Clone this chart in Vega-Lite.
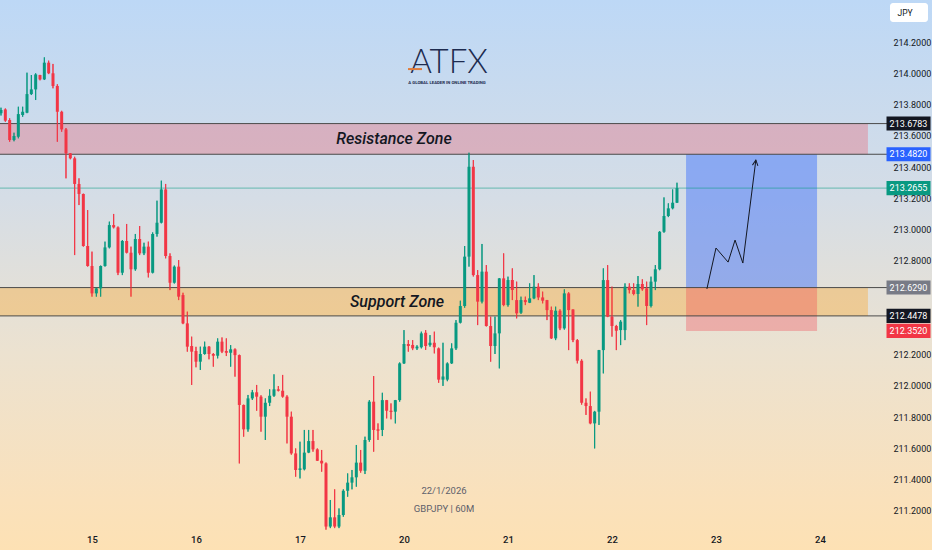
{
"$schema":"https://vega.github.io/schema/vega-lite/v6.json",
"width":932,"height":550,"padding":0,"autosize":{"type":"none"},
"view":{"stroke":null,"fill":{"gradient":"linear","x1":0,"y1":0,"x2":0,"y2":1,"stops":[{"offset":0,"color":"#bdd8f6"},{"offset":0.36,"color":"#d5dde6"},{"offset":0.64,"color":"#ece2d0"},{"offset":0.91,"color":"#fae1bb"},{"offset":1,"color":"#fde1b4"}]}},
"background":"#e6e0d6",
"config":{"scale":{"continuousPadding":0}},
"resolve":{"axis":{"x":"independent","y":"independent"}},
"datasets":{
"candles":[
{"u":3,"o":213.744,"h":213.78,"l":213.73,"c":213.765},
{"u":4,"o":213.769,"h":213.775,"l":213.69,"c":213.697},
{"u":5,"o":213.701,"h":213.712,"l":213.562,"c":213.573},
{"u":6,"o":213.573,"h":213.62,"l":213.565,"c":213.599},
{"u":7,"o":213.594,"h":213.786,"l":213.584,"c":213.739},
{"u":8,"o":213.733,"h":213.786,"l":213.722,"c":213.754},
{"u":9,"o":213.748,"h":214.004,"l":213.745,"c":213.867},
{"u":10,"o":213.867,"h":213.989,"l":213.861,"c":213.897},
{"u":11,"o":213.897,"h":214.0,"l":213.829,"c":213.993},
{"u":12,"o":213.989,"h":213.99,"l":213.955,"c":213.961},
{"u":13,"o":213.961,"h":214.102,"l":213.957,"c":214.068},
{"u":14,"o":214.068,"h":214.081,"l":213.995,"c":214.0},
{"u":15,"o":214.0,"h":214.06,"l":213.904,"c":213.919},
{"u":16,"o":213.919,"h":213.93,"l":213.562,"c":213.754},
{"u":17,"o":213.754,"h":213.76,"l":213.626,"c":213.641},
{"u":18,"o":213.641,"h":213.65,"l":213.328,"c":213.488},
{"u":19,"o":213.488,"h":213.49,"l":213.45,"c":213.456},
{"u":20,"o":213.456,"h":213.466,"l":212.837,"c":213.292},
{"u":21,"o":213.292,"h":213.328,"l":213.157,"c":213.228},
{"u":22,"o":213.228,"h":213.23,"l":212.891,"c":212.895},
{"u":23,"o":212.895,"h":213.125,"l":212.763,"c":212.767},
{"u":24,"o":212.767,"h":212.859,"l":212.571,"c":212.592},
{"u":25,"o":212.592,"h":212.63,"l":212.571,"c":212.624},
{"u":26,"o":212.624,"h":212.77,"l":212.571,"c":212.767},
{"u":27,"o":212.767,"h":212.923,"l":212.763,"c":212.886},
{"u":28,"o":212.886,"h":213.051,"l":212.88,"c":213.029},
{"u":29,"o":213.029,"h":213.1,"l":213.008,"c":213.014},
{"u":30,"o":213.014,"h":213.02,"l":212.709,"c":212.724},
{"u":31,"o":212.724,"h":212.933,"l":212.709,"c":212.927},
{"u":32,"o":212.927,"h":213.036,"l":212.848,"c":212.852},
{"u":33,"o":212.852,"h":212.891,"l":212.571,"c":212.746},
{"u":34,"o":212.746,"h":212.972,"l":212.737,"c":212.94},
{"u":35,"o":212.94,"h":213.023,"l":212.837,"c":212.848},
{"u":36,"o":212.848,"h":212.916,"l":212.837,"c":212.891},
{"u":37,"o":212.891,"h":212.923,"l":212.694,"c":212.724},
{"u":38,"o":212.724,"h":212.982,"l":212.72,"c":212.972},
{"u":39,"o":212.972,"h":213.185,"l":212.955,"c":213.044},
{"u":40,"o":213.044,"h":213.313,"l":213.04,"c":213.257},
{"u":41,"o":213.257,"h":213.292,"l":212.816,"c":212.831},
{"u":42,"o":212.831,"h":212.848,"l":212.613,"c":212.66},
{"u":43,"o":212.66,"h":212.77,"l":212.655,"c":212.763},
{"u":44,"o":212.763,"h":212.805,"l":212.549,"c":212.571},
{"u":45,"o":212.581,"h":212.596,"l":212.395,"c":212.4},
{"u":46,"o":212.4,"h":212.475,"l":212.219,"c":212.251},
{"u":47,"o":212.255,"h":212.315,"l":212.006,"c":212.219},
{"u":48,"o":212.223,"h":212.25,"l":212.119,"c":212.155},
{"u":49,"o":212.155,"h":212.251,"l":212.102,"c":212.204},
{"u":50,"o":212.204,"h":212.283,"l":212.2,"c":212.251},
{"u":51,"o":212.251,"h":212.255,"l":212.17,"c":212.204},
{"u":52,"o":212.204,"h":212.21,"l":212.123,"c":212.193},
{"u":53,"o":212.193,"h":212.304,"l":212.176,"c":212.283},
{"u":54,"o":212.283,"h":212.31,"l":212.21,"c":212.219},
{"u":55,"o":212.223,"h":212.304,"l":212.191,"c":212.212},
{"u":56,"o":212.212,"h":212.261,"l":212.123,"c":212.234},
{"u":57,"o":212.234,"h":212.24,"l":212.059,"c":212.197},
{"u":58,"o":212.197,"h":212.2,"l":211.504,"c":211.878},
{"u":59,"o":211.878,"h":211.88,"l":211.675,"c":211.722},
{"u":60,"o":211.722,"h":211.942,"l":211.707,"c":211.92},
{"u":61,"o":211.92,"h":211.974,"l":211.91,"c":211.959},
{"u":62,"o":211.959,"h":212.006,"l":211.841,"c":211.931},
{"u":63,"o":211.931,"h":211.94,"l":211.707,"c":211.803},
{"u":64,"o":211.803,"h":211.92,"l":211.654,"c":211.892},
{"u":65,"o":211.892,"h":211.978,"l":211.871,"c":211.937},
{"u":66,"o":211.937,"h":212.074,"l":211.93,"c":211.978},
{"u":67,"o":211.978,"h":211.999,"l":211.965,"c":211.969},
{"u":68,"o":211.969,"h":212.07,"l":211.925,"c":211.931},
{"u":69,"o":211.931,"h":211.94,"l":211.632,"c":211.803},
{"u":70,"o":211.803,"h":211.835,"l":211.56,"c":211.568},
{"u":71,"o":211.568,"h":211.6,"l":211.419,"c":211.462},
{"u":72,"o":211.462,"h":211.643,"l":211.408,"c":211.472},
{"u":73,"o":211.466,"h":211.718,"l":211.46,"c":211.573},
{"u":74,"o":211.573,"h":211.718,"l":211.57,"c":211.647},
{"u":75,"o":211.647,"h":211.718,"l":211.579,"c":211.594},
{"u":76,"o":211.594,"h":211.6,"l":211.52,"c":211.521},
{"u":77,"o":211.521,"h":211.59,"l":211.451,"c":211.504},
{"u":78,"o":211.504,"h":211.51,"l":211.08,"c":211.1},
{"u":79,"o":211.1,"h":211.27,"l":211.09,"c":211.159},
{"u":80,"o":211.159,"h":211.338,"l":211.09,"c":211.1},
{"u":81,"o":211.1,"h":211.216,"l":211.09,"c":211.174},
{"u":82,"o":211.174,"h":211.338,"l":211.163,"c":211.329},
{"u":83,"o":211.329,"h":211.44,"l":211.291,"c":211.381},
{"u":84,"o":211.381,"h":211.462,"l":211.338,"c":211.415},
{"u":85,"o":211.415,"h":211.622,"l":211.355,"c":211.509},
{"u":86,"o":211.509,"h":211.59,"l":211.445,"c":211.457},
{"u":87,"o":211.457,"h":211.675,"l":211.436,"c":211.654},
{"u":88,"o":211.654,"h":211.909,"l":211.643,"c":211.899},
{"u":89,"o":211.899,"h":212.063,"l":211.579,"c":211.718},
{"u":90,"o":211.722,"h":211.76,"l":211.654,"c":211.713},
{"u":91,"o":211.718,"h":211.956,"l":211.679,"c":211.909},
{"u":92,"o":211.909,"h":211.91,"l":211.792,"c":211.841},
{"u":93,"o":211.841,"h":211.888,"l":211.786,"c":211.833},
{"u":94,"o":211.835,"h":211.91,"l":211.76,"c":211.909},
{"u":95,"o":211.909,"h":212.15,"l":211.899,"c":212.144},
{"u":96,"o":212.144,"h":212.357,"l":212.14,"c":212.268},
{"u":97,"o":212.268,"h":212.293,"l":212.219,"c":212.255},
{"u":98,"o":212.262,"h":212.293,"l":212.229,"c":212.24},
{"u":99,"o":212.24,"h":212.26,"l":212.23,"c":212.251},
{"u":100,"o":212.247,"h":212.347,"l":212.24,"c":212.336},
{"u":101,"o":212.34,"h":212.357,"l":212.23,"c":212.255},
{"u":102,"o":212.261,"h":212.325,"l":212.251,"c":212.276},
{"u":103,"o":212.276,"h":212.347,"l":212.208,"c":212.247},
{"u":104,"o":212.24,"h":212.245,"l":212.02,"c":212.04},
{"u":105,"o":212.04,"h":212.276,"l":212.0,"c":212.06},
{"u":106,"o":212.04,"h":212.15,"l":212.03,"c":212.144},
{"u":107,"o":212.144,"h":212.272,"l":212.14,"c":212.24},
{"u":108,"o":212.24,"h":212.421,"l":212.23,"c":212.404},
{"u":109,"o":212.404,"h":212.545,"l":212.4,"c":212.511},
{"u":110,"o":212.511,"h":212.895,"l":212.5,"c":212.827},
{"u":111,"o":212.827,"h":213.492,"l":212.763,"c":213.402},
{"u":112,"o":213.402,"h":213.445,"l":212.7,"c":212.709},
{"u":113,"o":212.709,"h":212.741,"l":212.389,"c":212.539},
{"u":114,"o":212.539,"h":212.908,"l":212.528,"c":212.731},
{"u":115,"o":212.731,"h":212.773,"l":212.38,"c":212.383},
{"u":116,"o":212.383,"h":212.443,"l":212.155,"c":212.255},
{"u":117,"o":212.255,"h":212.443,"l":212.204,"c":212.336},
{"u":118,"o":212.336,"h":212.69,"l":212.112,"c":212.688},
{"u":119,"o":212.688,"h":212.848,"l":212.51,"c":212.517},
{"u":120,"o":212.517,"h":212.699,"l":212.507,"c":212.677},
{"u":121,"o":212.677,"h":212.752,"l":212.549,"c":212.613},
{"u":122,"o":212.549,"h":212.667,"l":212.432,"c":212.464},
{"u":123,"o":212.468,"h":212.571,"l":212.46,"c":212.549},
{"u":124,"o":212.549,"h":212.571,"l":212.517,"c":212.536},
{"u":125,"o":212.532,"h":212.656,"l":212.53,"c":212.56},
{"u":126,"o":212.56,"h":212.709,"l":212.555,"c":212.635},
{"u":127,"o":212.635,"h":212.656,"l":212.549,"c":212.566},
{"u":128,"o":212.566,"h":212.603,"l":212.528,"c":212.545},
{"u":129,"o":212.549,"h":212.55,"l":212.421,"c":212.485},
{"u":130,"o":212.485,"h":212.507,"l":212.3,"c":212.304},
{"u":131,"o":212.304,"h":212.507,"l":212.293,"c":212.481},
{"u":132,"o":212.481,"h":212.49,"l":212.357,"c":212.368},
{"u":133,"o":212.368,"h":212.618,"l":212.36,"c":212.592},
{"u":134,"o":212.592,"h":212.6,"l":212.229,"c":212.485},
{"u":135,"o":212.489,"h":212.49,"l":212.28,"c":212.293},
{"u":136,"o":212.293,"h":212.3,"l":212.144,"c":212.161},
{"u":137,"o":212.161,"h":212.17,"l":211.88,"c":211.892},
{"u":138,"o":211.892,"h":211.92,"l":211.814,"c":211.871},
{"u":139,"o":211.871,"h":211.963,"l":211.755,"c":211.76},
{"u":140,"o":211.76,"h":211.84,"l":211.6,"c":211.835},
{"u":141,"o":211.835,"h":212.23,"l":211.75,"c":212.229},
{"u":142,"o":212.229,"h":212.752,"l":212.08,"c":212.677},
{"u":143,"o":212.677,"h":212.773,"l":212.44,"c":212.443},
{"u":144,"o":212.443,"h":212.635,"l":212.315,"c":212.383},
{"u":145,"o":212.383,"h":212.39,"l":212.229,"c":212.353},
{"u":146,"o":212.357,"h":212.421,"l":212.261,"c":212.411},
{"u":147,"o":212.357,"h":212.656,"l":212.293,"c":212.635},
{"u":148,"o":212.635,"h":212.656,"l":212.592,"c":212.613},
{"u":149,"o":212.613,"h":212.656,"l":212.58,"c":212.588},
{"u":150,"o":212.588,"h":212.703,"l":212.507,"c":212.652},
{"u":151,"o":212.652,"h":212.682,"l":212.609,"c":212.618},
{"u":152,"o":212.624,"h":212.667,"l":212.389,"c":212.511},
{"u":153,"o":212.511,"h":212.699,"l":212.502,"c":212.667},
{"u":154,"o":212.667,"h":212.773,"l":212.613,"c":212.746},
{"u":155,"o":212.746,"h":212.99,"l":212.74,"c":212.986},
{"u":156,"o":212.986,"h":213.206,"l":212.98,"c":213.087},
{"u":157,"o":213.087,"h":213.168,"l":213.08,"c":213.136},
{"u":158,"o":213.136,"h":213.257,"l":213.13,"c":213.172},
{"u":159,"o":213.172,"h":213.3,"l":213.17,"c":213.2655}
],
"levels":[{"p":213.6783},{"p":213.482},{"p":212.629},{"p":212.4478}],
"tags":[
{"v":213.6783,"k":"black"},{"v":213.482,"k":"blue"},{"v":213.2655,"k":"green"},
{"v":212.629,"k":"gray"},{"v":212.4478,"k":"black"},{"v":212.352,"k":"red"}
],
"path":[
{"i":0,"t":165.9,"p":212.62},{"i":1,"t":168.0,"p":212.882},{"i":2,"t":170.8,"p":212.792},
{"i":3,"t":172.4,"p":212.933},{"i":4,"t":174.2,"p":212.786},{"i":5,"t":177.2,"p":213.445}
]
},
"layer":[
{"data":{"name":"candles"},
 "mark":{"type":"rule","strokeWidth":1},
 "encoding":{"x":{"field":"u","type":"quantitative","scale":{"domain":[2.77,217.85],"nice":false,"zero":false,"padding":0},
       "axis":{"orient":"bottom","offset":-22,"values":[24,48,72,96,120,144,168,192],"labelExpr":"['15','16','17','20','21','22','23','24'][round(datum.value/24)-1]","labelFont":"Roboto","labelFontSize":9.5,"labelFontWeight":500,"labelColor":"#131722","labelPadding":6,"ticks":false,"domain":false,"grid":false,"title":null,"zindex":1,"labelFlush":false}},
  "y":{"field":"l","type":"quantitative","scale":{"domain":[210.95,214.469],"nice":false,"zero":false,"padding":0},
       "axis":{"orient":"right","offset":-52,"values":[211.2,211.4,211.6,211.8,212.0,212.2,212.8,213.0,213.2,213.4,213.6,213.8,214.0,214.2],"format":".4f","labelFont":"Roboto","labelFontSize":9,"labelColor":"#131722","labelPadding":13,"labelAlign":"left","labelBaseline":"middle","ticks":false,"domain":false,"grid":false,"title":null,"zindex":1}},
  "y2":{"field":"h"},
  "color":{"condition":{"test":"datum.c >= datum.o","value":"#089981"},"value":"#f23645"}}},
{"data":{"values":[{"t0":2.77,"t1":203.07,"p0":213.482,"p1":213.6783}]},
 "mark":{"type":"rect","fill":"#f23645","opacity":0.26},
 "encoding":{"x":{"field":"t0","type":"quantitative","scale":{"domain":[2.77,217.85],"nice":false,"zero":false,"padding":0},"axis":null},"x2":{"field":"t1"},
  "y":{"field":"p0","type":"quantitative","scale":{"domain":[210.95,214.469],"nice":false,"zero":false,"padding":0},"axis":null},"y2":{"field":"p1"}}},
{"data":{"values":[{"t0":2.77,"t1":203.07,"p0":212.4478,"p1":212.629}]},
 "mark":{"type":"rect","fill":"#ff9800","opacity":0.3},
 "encoding":{"x":{"field":"t0","type":"quantitative","scale":{"domain":[2.77,217.85],"nice":false,"zero":false,"padding":0},"axis":null},"x2":{"field":"t1"},
  "y":{"field":"p0","type":"quantitative","scale":{"domain":[210.95,214.469],"nice":false,"zero":false,"padding":0},"axis":null},"y2":{"field":"p1"}}},
{"data":{"values":[{"t0":161.09,"t1":191.32,"p0":212.629,"p1":213.482}]},
 "mark":{"type":"rect","fill":"#2962ff","opacity":0.42},
 "encoding":{"x":{"field":"t0","type":"quantitative","scale":{"domain":[2.77,217.85],"nice":false,"zero":false,"padding":0},"axis":null},"x2":{"field":"t1"},
  "y":{"field":"p0","type":"quantitative","scale":{"domain":[210.95,214.469],"nice":false,"zero":false,"padding":0},"axis":null},"y2":{"field":"p1"}}},
{"data":{"values":[{"t0":161.09,"t1":191.32,"p0":212.352,"p1":212.629}]},
 "mark":{"type":"rect","fill":"#f23645","opacity":0.3},
 "encoding":{"x":{"field":"t0","type":"quantitative","scale":{"domain":[2.77,217.85],"nice":false,"zero":false,"padding":0},"axis":null},"x2":{"field":"t1"},
  "y":{"field":"p0","type":"quantitative","scale":{"domain":[210.95,214.469],"nice":false,"zero":false,"padding":0},"axis":null},"y2":{"field":"p1"}}},
{"data":{"name":"levels"},
 "mark":{"type":"rule","stroke":"#4a4a4a","strokeWidth":1},
 "encoding":{"x":{"datum":2.77,"type":"quantitative","scale":{"domain":[2.77,217.85],"nice":false,"zero":false,"padding":0},"axis":null},"x2":{"datum":207.47},
  "y":{"field":"p","type":"quantitative","scale":{"domain":[210.95,214.469],"nice":false,"zero":false,"padding":0},"axis":null}}},
{"data":{"values":[{"p":213.2655}]},
 "mark":{"type":"rule","stroke":"#089981","strokeWidth":1,"opacity":0.55},
 "encoding":{"x":{"datum":2.77,"type":"quantitative","scale":{"domain":[2.77,217.85],"nice":false,"zero":false,"padding":0},"axis":null},"x2":{"datum":207.47},
  "y":{"field":"p","type":"quantitative","scale":{"domain":[210.95,214.469],"nice":false,"zero":false,"padding":0},"axis":null}}},
{"data":{"name":"candles"},
 "mark":{"type":"rule","strokeWidth":1},
 "encoding":{"x":{"field":"u","type":"quantitative","scale":{"domain":[2.77,217.85],"nice":false,"zero":false,"padding":0},"axis":null},
  "y":{"field":"l","type":"quantitative","scale":{"domain":[210.95,214.469],"nice":false,"zero":false,"padding":0},"axis":null},"y2":{"field":"h"},
  "color":{"condition":{"test":"datum.c >= datum.o","value":"#089981"},"value":"#f23645"}}},
{"data":{"name":"candles"},
 "mark":{"type":"bar","size":3},
 "encoding":{"x":{"field":"u","type":"quantitative","scale":{"domain":[2.77,217.85],"nice":false,"zero":false,"padding":0},"axis":null},
  "y":{"field":"o","type":"quantitative","scale":{"domain":[210.95,214.469],"nice":false,"zero":false,"padding":0},"axis":null},"y2":{"field":"c"},
  "color":{"condition":{"test":"datum.c >= datum.o","value":"#089981"},"value":"#f23645"}}},
{"data":{"name":"path"},
 "mark":{"type":"line","stroke":"#131722","strokeWidth":1},
 "encoding":{"x":{"field":"t","type":"quantitative","scale":{"domain":[2.77,217.85],"nice":false,"zero":false,"padding":0},"axis":null},
  "y":{"field":"p","type":"quantitative","scale":{"domain":[210.95,214.469],"nice":false,"zero":false,"padding":0},"axis":null},
  "order":{"field":"i"}}},
{"data":{"values":[{"t":177.2,"p":213.445}]},
 "mark":{"type":"point","shape":"M-0.5,1L0,0L0.5,1","filled":false,"stroke":"#131722","strokeWidth":1,"size":120,"angle":7,"opacity":1},
 "encoding":{"x":{"field":"t","type":"quantitative","scale":{"domain":[2.77,217.85],"nice":false,"zero":false,"padding":0},"axis":null},
  "y":{"field":"p","type":"quantitative","scale":{"domain":[210.95,214.469],"nice":false,"zero":false,"padding":0},"axis":null}}},
{"data":{"values":[{"t":93.7,"p":213.58,"s":"Resistance Zone"},{"t":94.39,"p":212.538,"s":"Support Zone"}]},
 "mark":{"type":"text","font":"Roboto","fontStyle":"italic","fontWeight":500,"fontSize":16,"fill":"#131722","baseline":"middle","align":"center"},
 "encoding":{"x":{"field":"t","type":"quantitative","scale":{"domain":[2.77,217.85],"nice":false,"zero":false,"padding":0},"axis":null},
  "y":{"field":"p","type":"quantitative","scale":{"domain":[210.95,214.469],"nice":false,"zero":false,"padding":0},"axis":null},
  "text":{"field":"s"}}},
{"data":{"values":[{"t":106.39,"p":214.004,"s":"ATFX"}]},
 "mark":{"type":"text","font":"Lato","fontWeight":300,"fontSize":33,"fill":"#1d2b4f","baseline":"alphabetic","align":"center","letterSpacing":1},
 "encoding":{"x":{"field":"t","type":"quantitative","scale":{"domain":[2.77,217.85],"nice":false,"zero":false,"padding":0},"axis":null},
  "y":{"field":"p","type":"quantitative","scale":{"domain":[210.95,214.469],"nice":false,"zero":false,"padding":0},"axis":null},
  "text":{"field":"s"}}},
{"data":{"values":[{"t0":96.93,"t1":100.16,"p":214.027}]},
 "mark":{"type":"rule","stroke":"#e07b39","strokeWidth":2},
 "encoding":{"x":{"field":"t0","type":"quantitative","scale":{"domain":[2.77,217.85],"nice":false,"zero":false,"padding":0},"axis":null},"x2":{"field":"t1"},
  "y":{"field":"p","type":"quantitative","scale":{"domain":[210.95,214.469],"nice":false,"zero":false,"padding":0},"axis":null}}},
{"data":{"values":[{"t":105.93,"p":213.94,"s":"A GLOBAL LEADER IN ONLINE TRADING"}]},
 "mark":{"type":"text","font":"Roboto","fontWeight":"bold","fontSize":4.3,"fill":"#1d2b4f","baseline":"middle","align":"center"},
 "encoding":{"x":{"field":"t","type":"quantitative","scale":{"domain":[2.77,217.85],"nice":false,"zero":false,"padding":0},"axis":null},
  "y":{"field":"p","type":"quantitative","scale":{"domain":[210.95,214.469],"nice":false,"zero":false,"padding":0},"axis":null},
  "text":{"field":"s"}}},
{"data":{"values":[{"t":105.24,"p":211.327,"s":"22/1/2026"},{"t":105.24,"p":211.212,"s":"GBPJPY | 60M"}]},
 "mark":{"type":"text","font":"Roboto","fontSize":9.5,"fill":"#5d606b","baseline":"middle","align":"center"},
 "encoding":{"x":{"field":"t","type":"quantitative","scale":{"domain":[2.77,217.85],"nice":false,"zero":false,"padding":0},"axis":null},
  "y":{"field":"p","type":"quantitative","scale":{"domain":[210.95,214.469],"nice":false,"zero":false,"padding":0},"axis":null},
  "text":{"field":"s"}}},
{"data":{"name":"tags"},
 "mark":{"type":"point","shape":"M-1,-0.32L1,-0.32L1,0.32L-1,0.32Z","filled":true,"size":1936,"opacity":1,"strokeWidth":0},
 "encoding":{"x":{"datum":212.43,"type":"quantitative","scale":{"domain":[2.77,217.85],"nice":false,"zero":false,"padding":0},"axis":null},
  "y":{"field":"v","type":"quantitative","scale":{"domain":[210.95,214.469],"nice":false,"zero":false,"padding":0},"axis":null},
  "color":{"field":"k","type":"nominal","scale":{"domain":["black","blue","green","gray","red"],"range":["#131722","#2962ff","#089981","#787b86","#f23645"]},"legend":null}}},
{"data":{"name":"tags"},
 "mark":{"type":"text","font":"Roboto","fontSize":9,"fill":"#ffffff","baseline":"middle","align":"center"},
 "encoding":{"x":{"datum":212.43,"type":"quantitative","scale":{"domain":[2.77,217.85],"nice":false,"zero":false,"padding":0},"axis":null},
  "y":{"field":"v","type":"quantitative","scale":{"domain":[210.95,214.469],"nice":false,"zero":false,"padding":0},"axis":null},
  "text":{"field":"v","type":"quantitative","format":".4f"}}},
{"data":{"values":[{"t0":208.16,"t1":216.93,"p0":214.45,"p1":214.328}]},
 "mark":{"type":"rect","fill":"#ffffff","cornerRadius":3},
 "encoding":{"x":{"field":"t0","type":"quantitative","scale":{"domain":[2.77,217.85],"nice":false,"zero":false,"padding":0},"axis":null},"x2":{"field":"t1"},
  "y":{"field":"p0","type":"quantitative","scale":{"domain":[210.95,214.469],"nice":false,"zero":false,"padding":0},"axis":null},"y2":{"field":"p1"}}},
{"data":{"values":[{"t":209.9,"p":214.389,"s":"JPY"}]},
 "mark":{"type":"text","font":"Roboto","fontSize":8.5,"fill":"#131722","baseline":"middle","align":"left"},
 "encoding":{"x":{"field":"t","type":"quantitative","scale":{"domain":[2.77,217.85],"nice":false,"zero":false,"padding":0},"axis":null},
  "y":{"field":"p","type":"quantitative","scale":{"domain":[210.95,214.469],"nice":false,"zero":false,"padding":0},"axis":null},
  "text":{"field":"s"}}}
]
}
